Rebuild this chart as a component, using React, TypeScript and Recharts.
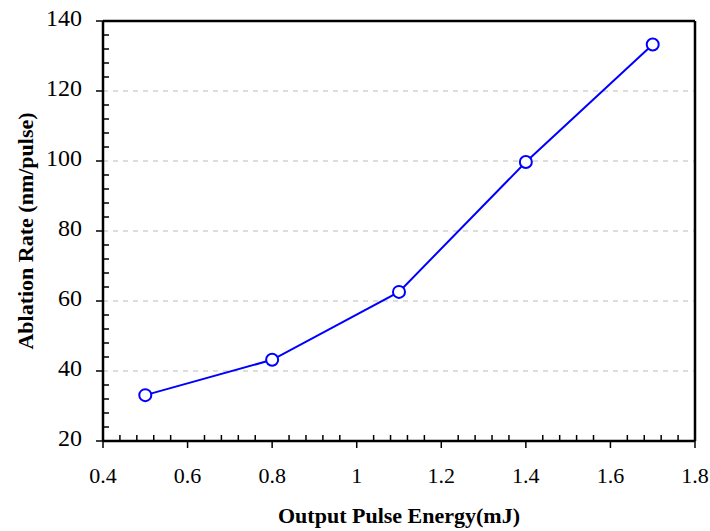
import { Line, LineChart, ReferenceLine, XAxis, YAxis } from "recharts"

const energy = [0.5, 0.8, 1.1, 1.4, 1.7]
const ablationRate = [33.1, 43.2, 62.6, 99.7, 133.3]

const xMajorTicks = [0.4, 0.6, 0.8, 1, 1.2, 1.4, 1.6, 1.8]
const yMajorTicks = [20, 40, 60, 80, 100, 120, 140]
const yGridLines = [40, 60, 80, 100, 120]

const data = energy.map((e, i) => ({ energy: e, rate: ablationRate[i] }))

// major ticks split into 5 minor steps each
const withMinors = (majors: number[]) => {
  const out: number[] = []
  for (let i = 0; i < majors.length - 1; i++) {
    const step = (majors[i + 1] - majors[i]) / 5
    for (let k = 0; k < 5; k++) out.push(+(majors[i] + step * k).toFixed(4))
  }
  out.push(majors[majors.length - 1])
  return out
}
const xTicks = withMinors(xMajorTicks)
const yTicks = withMinors(yMajorTicks)

const serif = { fontFamily: '"Liberation Serif", "Times New Roman", serif' }
const isMajor = (majors: number[], v: number) => majors.some((m) => Math.abs(m - v) < 1e-6)

const XTick = (props: any) => {
  const { x, y, payload } = props
  const major = isMajor(xMajorTicks, payload.value)
  return (
    <g>
      <line x1={x} x2={x} y1={y} y2={major ? y + 7 : y - 6} stroke="#000" strokeWidth={1.5} />
      {major && (
        <text x={x} y={y + 42} textAnchor="middle" style={{ ...serif, fontSize: 22 }} fill="#000">
          {String(payload.value)}
        </text>
      )}
    </g>
  )
}

const YTick = (props: any) => {
  const { x, y, payload } = props
  const major = isMajor(yMajorTicks, payload.value)
  return (
    <g>
      <line x1={x} x2={major ? x - 7 : x + 6} y1={y} y2={y} stroke="#000" strokeWidth={1.5} />
      {major && (
        <text x={x - 21} y={y + 4.5} textAnchor="end" style={{ ...serif, fontSize: 24 }} fill="#000">
          {String(payload.value)}
        </text>
      )}
    </g>
  )
}

const XTitle = (props: any) => {
  const { viewBox } = props
  const cx = viewBox.x + viewBox.width / 2
  return (
    <text x={cx} y={523} textAnchor="middle" style={{ ...serif, fontSize: 22, fontWeight: "bold" }} fill="#000">
      Output Pulse Energy(mJ)
    </text>
  )
}

const YTitle = (props: any) => {
  const { viewBox } = props
  const cy = viewBox.y + viewBox.height / 2
  const cx = 33
  return (
    <text
      x={cx}
      y={cy}
      transform={`rotate(-90 ${cx} ${cy})`}
      textAnchor="middle"
      style={{ ...serif, fontSize: 22, fontWeight: "bold" }}
      fill="#000"
    >
      Ablation Rate (nm/pulse)
    </text>
  )
}

export default function App() {
  return (
    <div style={{ position: "absolute", left: 0, top: 0, width: 710, height: 531, background: "#fff" }}>
      <LineChart width={710} height={531} data={data} margin={{ top: 21, right: 15, bottom: 0, left: 0 }}>
        {yGridLines.map((v) => (
          <ReferenceLine key={v} y={v} stroke="#bbbbbb" strokeDasharray="5 5" strokeWidth={1} />
        ))}
        <ReferenceLine y={140} stroke="#000" strokeWidth={2.5} />
        <ReferenceLine x={1.8} stroke="#000" strokeWidth={2.5} />
        <XAxis
          dataKey="energy"
          type="number"
          domain={[0.4, 1.8]}
          ticks={xTicks}
          interval={0}
          height={90}
          tickSize={0}
          tickMargin={0}
          tickLine={false}
          tick={<XTick />}
          axisLine={{ stroke: "#000", strokeWidth: 2.5 }}
          label={{ content: <XTitle /> }}
        />
        <YAxis
          type="number"
          domain={[20, 140]}
          ticks={yTicks}
          interval={0}
          width={103}
          tickSize={0}
          tickMargin={0}
          tickLine={false}
          tick={<YTick />}
          axisLine={{ stroke: "#000", strokeWidth: 2.5 }}
          label={{ content: <YTitle /> }}
        />
        <Line
          dataKey="rate"
          stroke="#0000ff"
          strokeWidth={2}
          dot={{ r: 6, fill: "#fff", stroke: "#0000ff", strokeWidth: 2 }}
          isAnimationActive={false}
        />
      </LineChart>
    </div>
  )
}
